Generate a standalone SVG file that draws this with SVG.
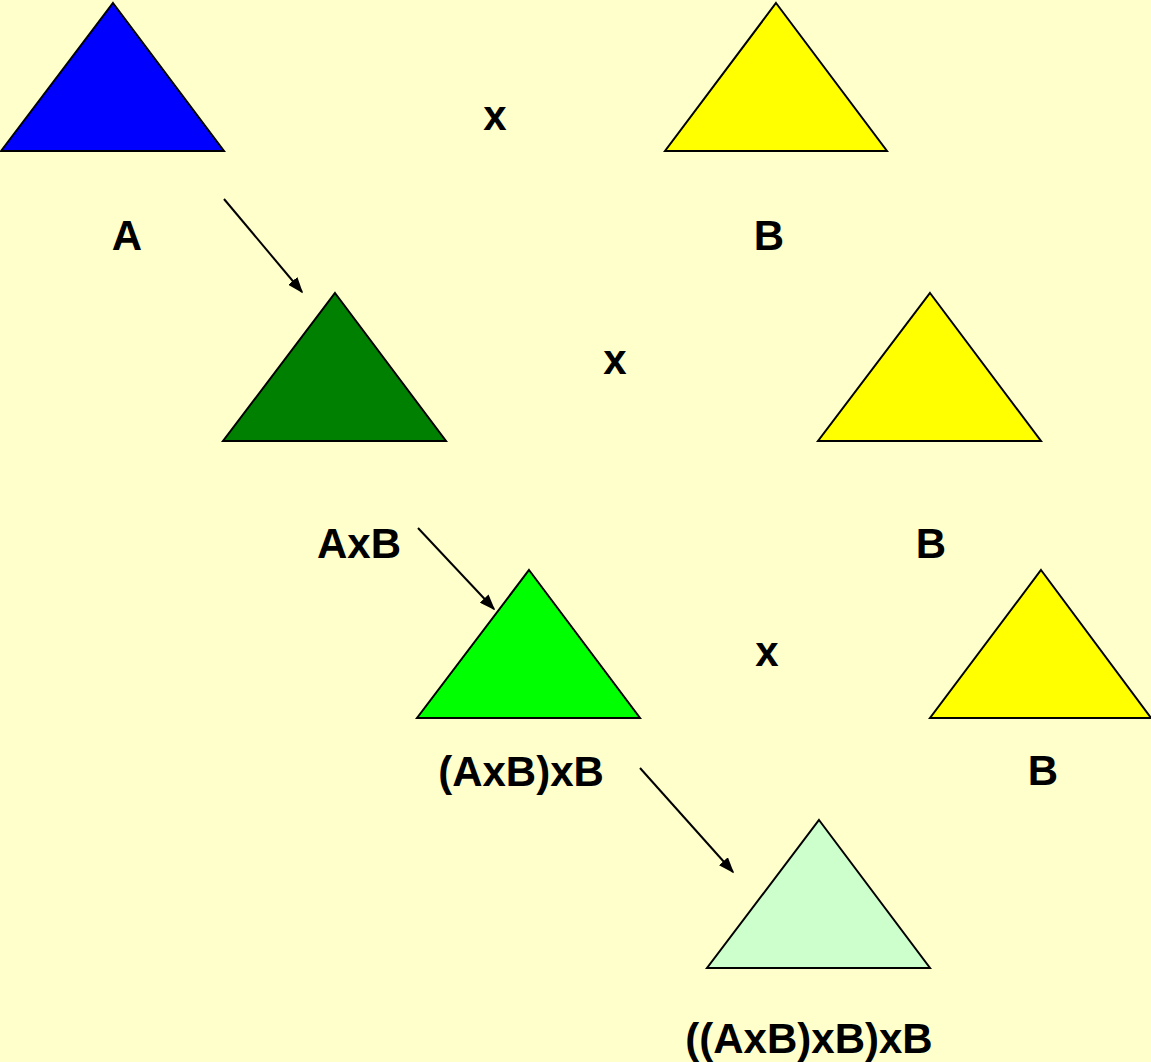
<svg xmlns="http://www.w3.org/2000/svg" width="1151" height="1062" viewBox="0 0 1151 1062">
<style>
.tri{stroke:#000;stroke-width:2;stroke-linejoin:miter}
.lbl{font-family:"Liberation Sans",Arial,sans-serif;font-weight:bold;font-size:42px;fill:#000;text-anchor:middle}
.con{stroke:#000;stroke-width:2;fill:none}
</style>
<defs>
<marker id="ah" viewBox="0 0 10 10" refX="9" refY="5" markerWidth="16" markerHeight="12" markerUnits="userSpaceOnUse" orient="auto" preserveAspectRatio="none">
<path d="M0,0 L10,5 L0,10 z" fill="#000"/>
</marker>
</defs>
<rect width="1151" height="1062" fill="#FFFFCC"/>
<g id="nodeA"><polygon class="tri" fill="#0000FF" points="113,3 224,151 1,151"/><text class="lbl" x="127" y="250">A</text></g>
<g id="nodeB1"><polygon class="tri" fill="#FFFF00" points="776,3 887,151 665,151"/><text class="lbl" x="769" y="250">B</text></g>
<g id="op1"><text class="lbl" x="495" y="130">x</text></g>
<g id="nodeAxB"><polygon class="tri" fill="#008000" points="335,293 446,441 223,441"/><text class="lbl" x="359" y="558">AxB</text></g>
<g id="nodeB2"><polygon class="tri" fill="#FFFF00" points="930,293 1041,441 818,441"/><text class="lbl" x="931" y="558">B</text></g>
<g id="op2"><text class="lbl" x="615" y="374">x</text></g>
<g id="nodeAxBxB"><polygon class="tri" fill="#00FF00" points="529,570 640,718 417,718"/><text class="lbl" x="521" y="786">(AxB)xB</text></g>
<g id="nodeB3"><polygon class="tri" fill="#FFFF00" points="1041,570 1151,718 930,718"/><text class="lbl" x="1043" y="785">B</text></g>
<g id="op3"><text class="lbl" x="767" y="666">x</text></g>
<g id="nodeFinal"><polygon class="tri" fill="#CCFFCC" points="819,820 930,968 707,968"/><text class="lbl" x="809" y="1053">((AxB)xB)xB</text></g>
<g id="connectors">
<line class="con" x1="224" y1="199" x2="302" y2="292" marker-end="url(#ah)"/>
<line class="con" x1="418" y1="528" x2="494" y2="609" marker-end="url(#ah)"/>
<line class="con" x1="640" y1="768" x2="733" y2="872" marker-end="url(#ah)"/>
</g>
</svg>
